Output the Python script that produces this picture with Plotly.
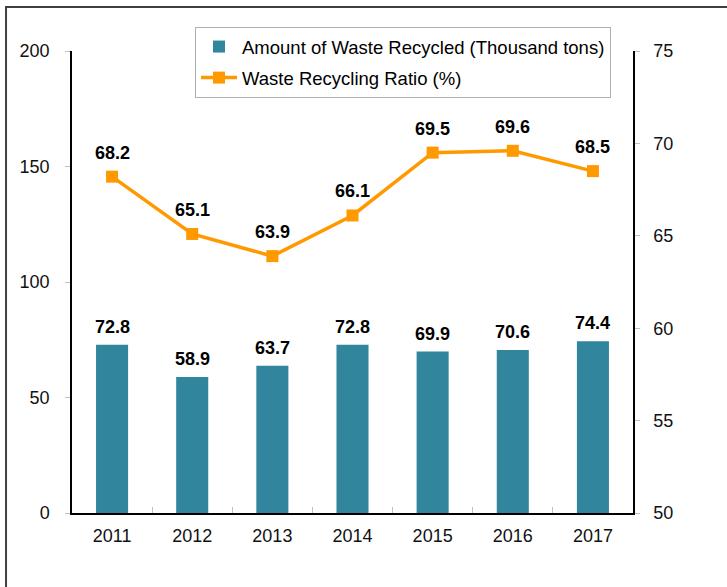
import plotly.graph_objects as go

years = ["2011", "2012", "2013", "2014", "2015", "2016", "2017"]
amount = [72.8, 58.9, 63.7, 72.8, 69.9, 70.6, 74.4]
ratio = [68.2, 65.1, 63.9, 66.1, 69.5, 69.6, 68.5]

FONT = "Liberation Sans, Arial, sans-serif"
BAR = "#31859C"
LINE = "#FF9900"

fig = go.Figure()
fig.add_trace(go.Bar(
    x=years, y=amount, name="Amount of Waste Recycled (Thousand tons)",
    marker=dict(color=BAR, line=dict(width=0)), width=0.4,
    legendgroup="a",
))
fig.add_trace(go.Scatter(
    x=years, y=ratio, name="Waste Recycling Ratio (%)", yaxis="y2",
    mode="lines+markers", line=dict(color=LINE, width=3.5),
    marker=dict(symbol="square", size=12, color=LINE),
    cliponaxis=False, legendgroup="b",
))

annotations = []
for i, v in enumerate(amount):
    annotations.append(dict(x=i, y=v, xref="x", yref="y", text=f"<b>{v:.1f}</b>",
                            showarrow=False, yanchor="middle", yshift=18,
                            font=dict(family=FONT, size=18, color="black")))
for i, v in enumerate(ratio):
    annotations.append(dict(x=i, y=v, xref="x", yref="y2", text=f"<b>{v:.1f}</b>",
                            showarrow=False, yanchor="middle", yshift=24,
                            font=dict(family=FONT, size=18, color="black")))

fig.update_layout(
    width=727, height=587,
    margin=dict(l=72, r=94, t=51, b=74, autoexpand=False),
    paper_bgcolor="white", plot_bgcolor="white",
    font=dict(family=FONT, size=18, color="#111"),
    showlegend=True,
    legend=dict(x=0.2193, y=1.0519, xanchor="left", yanchor="top",
                bordercolor="#b0b0b0", borderwidth=1, bgcolor="white",
                font=dict(family=FONT, size=18.5, color="black"),
                tracegroupgap=4, itemwidth=36),
    xaxis=dict(type="category", range=[-0.5, len(years) - 0.5],
               showline=True, linecolor="black", linewidth=1.5,
               ticks="inside", tickson="boundaries", ticklen=6,
               tickcolor="#c0c0c0", showgrid=False, zeroline=False,
               ticklabelstandoff=6, automargin=False, tickangle=0,
               tickfont=dict(size=18, family=FONT, color="#111")),
    yaxis=dict(range=[0, 200], dtick=50, showline=True, linecolor="black",
               linewidth=1.5, ticks="outside", ticklen=5, tickcolor="#c0c0c0",
               showgrid=False, zeroline=False, ticklabelstandoff=12,
               automargin=False,
               tickfont=dict(size=18, family=FONT, color="#111")),
    yaxis2=dict(range=[50, 75], dtick=5, overlaying="y", side="right",
                showline=True, linecolor="black", linewidth=1.5,
                ticks="outside", ticklen=5, tickcolor="#c0c0c0",
                showgrid=False, zeroline=False, ticklabelstandoff=10,
                automargin=False,
                tickfont=dict(size=18, family=FONT, color="#111")),
    annotations=annotations,
    shapes=[dict(type="rect", xref="paper", yref="paper",
                 x0=-0.1176, x1=1.3, y0=-0.3, y1=1.0952,
                 line=dict(color="#404040", width=2), layer="below")],
)

fig.write_html("out.html", config={"displayModeBar": False},
               post_script="document.body.style.margin='0';")
